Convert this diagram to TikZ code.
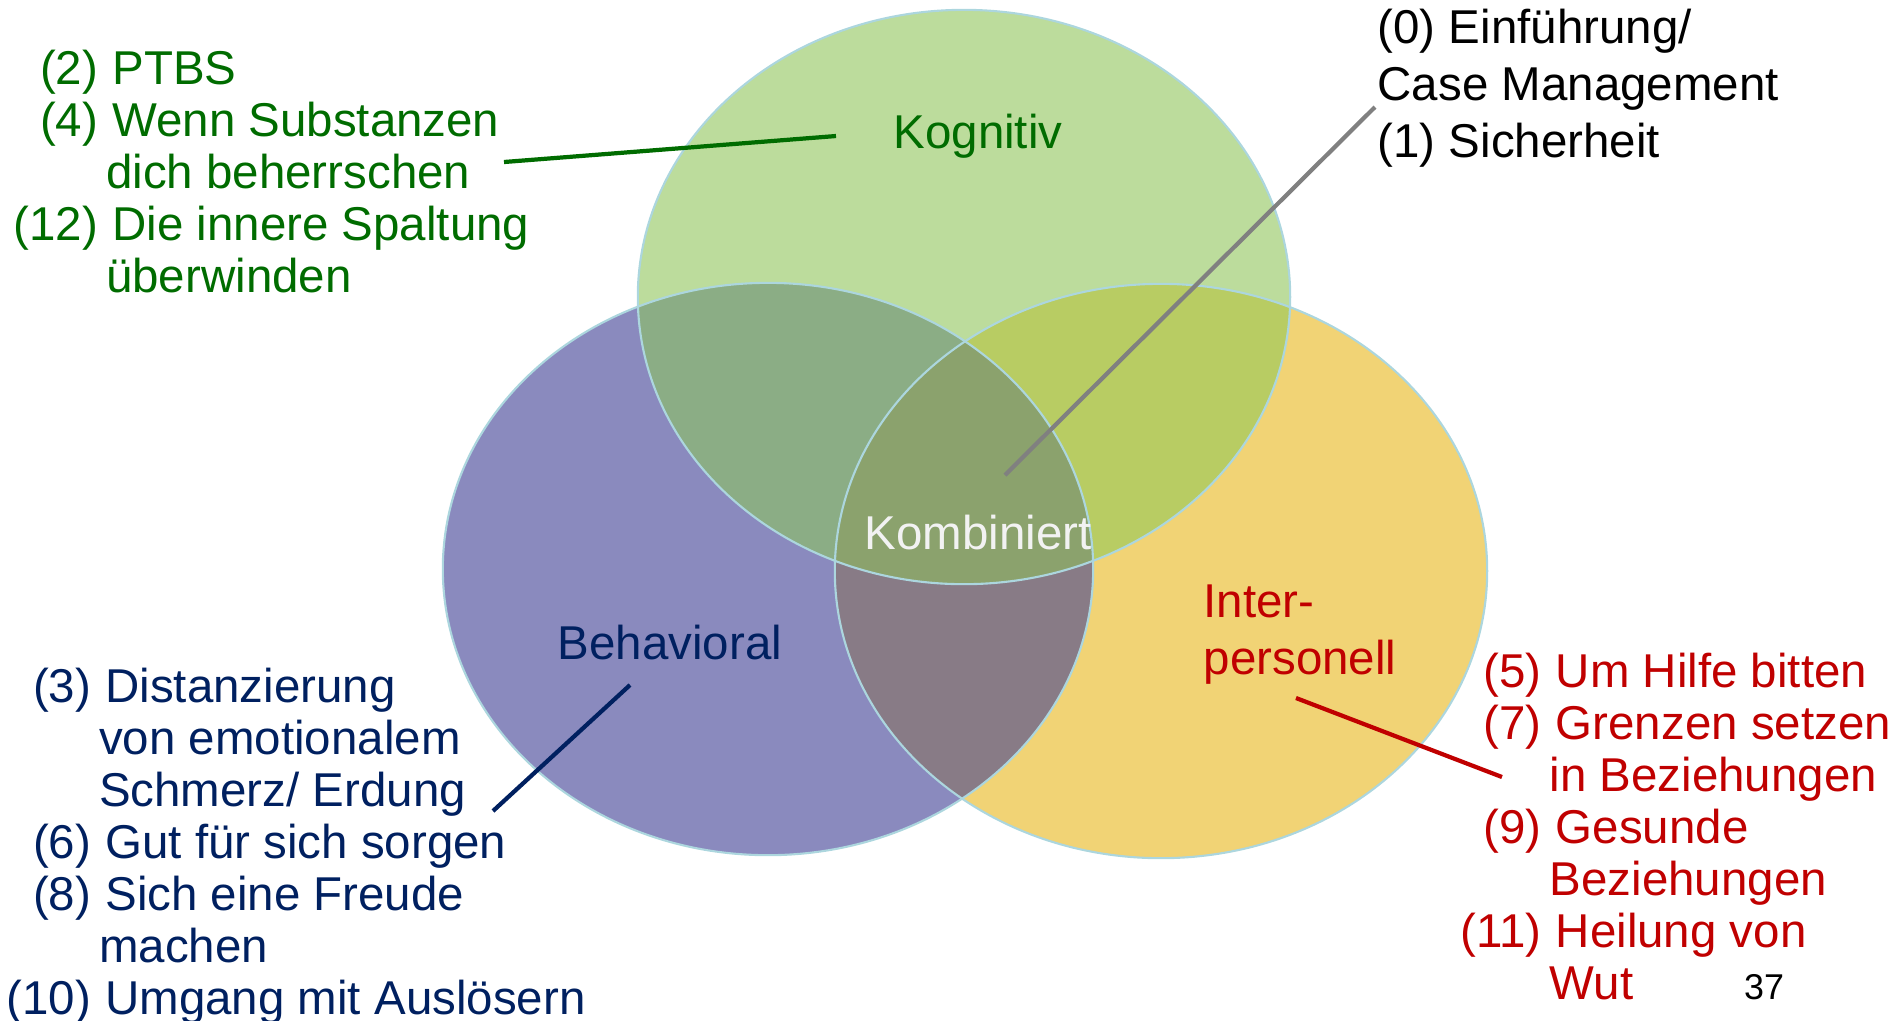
\documentclass[tikz,border=0pt]{standalone}
\usepackage{fontspec}
\setsansfont{Liberation Sans}
\usepackage{tikz}
\usetikzlibrary{positioning}
\definecolor{kogfill}{RGB}{188,220,156}
\definecolor{behfill}{RGB}{138,138,190}
\definecolor{intfill}{RGB}{241,211,117}
\definecolor{kogbeh}{RGB}{139,173,133}
\definecolor{kogint}{RGB}{184,204,99}
\definecolor{behint}{RGB}{136,123,134}
\definecolor{kombfill}{RGB}{139,162,109}
\definecolor{rim}{RGB}{172,214,222}
\definecolor{kogtext}{RGB}{0,108,0}
\definecolor{behtext}{RGB}{0,32,96}
\definecolor{inttext}{RGB}{192,0,0}
\newcommand{\kogarea}{(964,297) ellipse [x radius=3.26cm, y radius=2.87cm]}
\newcommand{\beharea}{(768,569) ellipse [x radius=3.25cm, y radius=2.86cm]}
\newcommand{\intarea}{(1161,571) ellipse [x radius=3.26cm, y radius=2.87cm]}
\newcommand{\weiter}{\hspace*{-0.13em}}

\begin{document}
\begin{tikzpicture}[x=0.01cm, y=-0.01cm,
	liste/.style={anchor=base west, inner sep=0pt, font=\fontsize{13.5}{14.8}\selectfont},
	titel/.style={inner sep=0pt, font=\fontsize{13.5}{16.2}\selectfont},
	zeiger/.style={line width=1.2pt}]
				\sffamily
				\useasboundingbox (0,0) rectangle (1899,1020);
				% Kreise
				\fill[behfill] \beharea;
				\fill[intfill] \intarea;
				\fill[kogfill] \kogarea;
				\begin{scope}\clip \kogarea; \fill[kogbeh] \beharea; \end{scope}
				\begin{scope}\clip \kogarea; \fill[kogint] \intarea; \end{scope}
				\begin{scope}\clip \beharea; \fill[behint] \intarea; \end{scope}
				\begin{scope}\clip \kogarea; \clip \beharea; \fill[kombfill] \intarea; \end{scope}
				\draw[rim, line width=0.6pt] \beharea;
				\draw[rim, line width=0.6pt] \intarea;
				\draw[rim, line width=0.6pt] \kogarea;
				% Bereiche
				\node[titel, text=kogtext] (Kog) at (978,136) {Kognitiv};
				\node[titel, text=white!95!black] (Komb) at (978,533) {Kombiniert};
				\node[titel, text=behtext] (Beh) at (670,643) {Behavioral};
				\node[titel, text=inttext, anchor=west, align=left] (Inter) at (1203,635) {Inter-\\personell};
				% Module
				\node[liste, text=kogtext] (kogListe) at (13,84) {\begin{tabular}[t]{@{}r@{\hspace{0.3em}}l@{}}
					(2) & PTBS\\
					(4) & Wenn Substanzen\\
					& \weiter dich beherrschen\\
					(12) & Die innere Spaltung\\
					& \weiter überwinden
				\end{tabular}};
				\node[liste, text=behtext] (behListe) at (6,702) {\begin{tabular}[t]{@{}r@{\hspace{0.3em}}l@{}}
					(3) & Distanzierung\\
					& \weiter von emotionalem\\
					& \weiter Schmerz/ Erdung\\
					(6) & Gut für sich sorgen\\
					(8) & Sich eine Freude\\
					& \weiter machen\\
					(10) & Umgang mit Auslösern
				\end{tabular}};
				\node[liste, text=inttext] (intListe) at (1460,687) {\begin{tabular}[t]{@{}r@{\hspace{0.3em}}l@{}}
					(5) & Um Hilfe bitten\\
					(7) & Grenzen setzen\\
					& \weiter in Beziehungen\\
					(9) & Gesunde\\
					& \weiter Beziehungen\\
					(11) & Heilung von\\
					& \weiter Wut
				\end{tabular}};
				\node[titel, anchor=base west, align=left] (kombListe) at (1377,157) {(0) Einführung/\\Case Management\\(1) Sicherheit};
				\node[inner sep=0pt, font=\fontsize{10.2}{12}\selectfont] (Seite) at (1764,987) {37};
				% Zeiger
				\coordinate (kogA) at (504,162);
				\coordinate (kogB) at (836,136);
				\coordinate (kombA) at (1375,107);
				\coordinate (kombB) at (1005,475);
				\coordinate (behA) at (630,685);
				\coordinate (behB) at (493,811);
				\coordinate (intA) at (1296,698);
				\coordinate (intB) at (1502,777);
				\draw[zeiger, kogtext] (kogA) -- (kogB);
				\draw[zeiger, gray] (kombA) -- (kombB);
				\draw[zeiger, behtext] (behA) -- (behB);
				\draw[zeiger, inttext] (intA) -- (intB);
 			\end{tikzpicture}
\end{document}
